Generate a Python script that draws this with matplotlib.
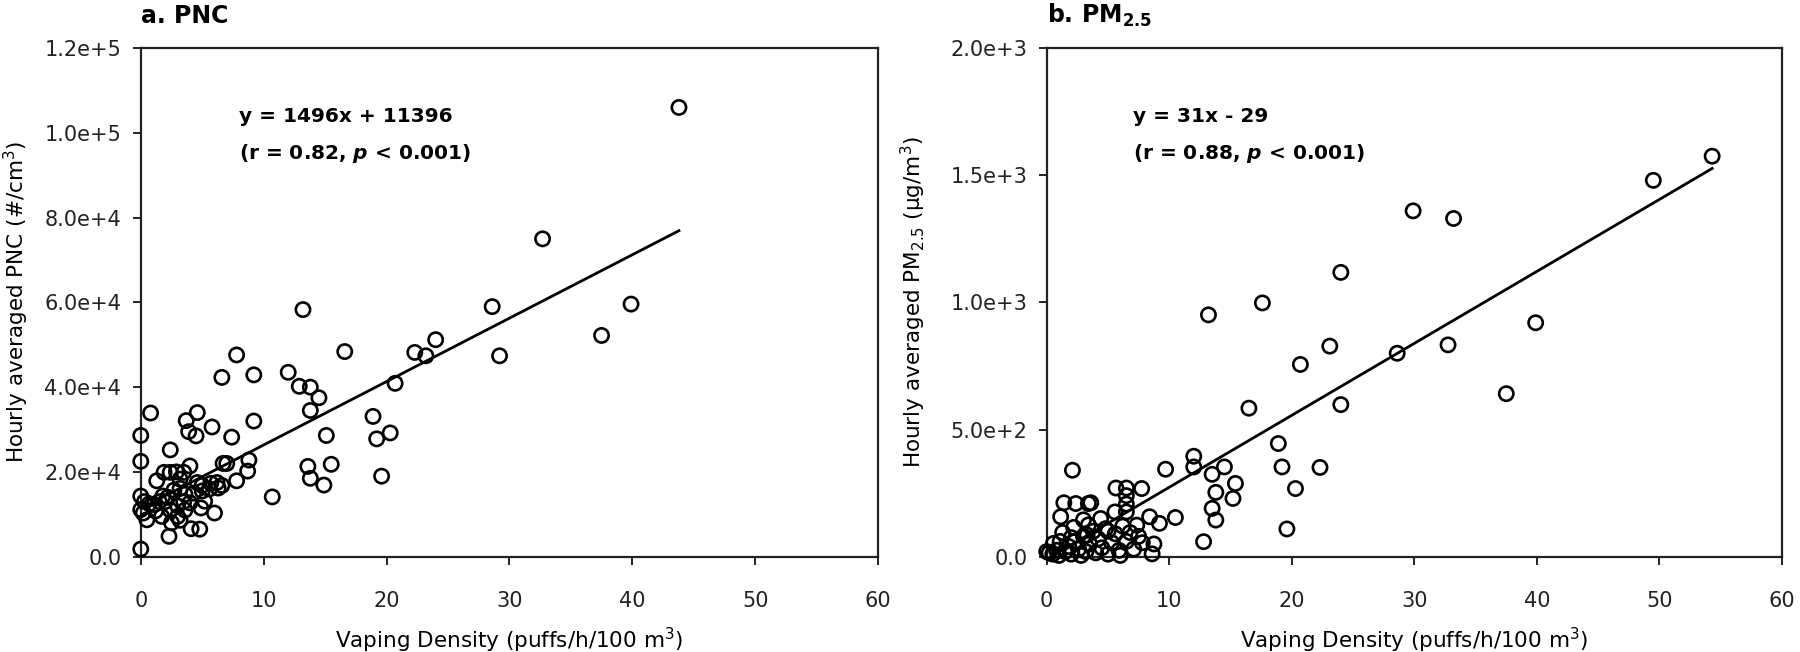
import numpy as np
import matplotlib
matplotlib.use("Agg")
import matplotlib.pyplot as plt

plt.rcParams['font.family'] = ['DejaVu Sans']
plt.rcParams['mathtext.default'] = 'regular'

# panel a: PNC vs vaping density
pnc_x = [43.8, 32.7, 28.6, 29.2, 37.5, 39.9, 13.2, 24.0, 22.3, 23.2, 16.6, 7.8,
         6.6, 9.2, 12.0, 12.9, 13.8, 14.5, 13.8, 20.7, 0.8, 0.0, 3.7, 4.6,
         5.8, 3.9, 4.5, 7.4, 9.2, 15.1, 18.9, 19.2, 20.3, 2.4, 0.0, 13.6,
         13.8, 15.5, 14.9, 19.6, 8.8, 8.7, 6.7, 7.0, 7.8, 10.7, 4.0, 0.0,
         0.0, 0.0, 2.3, 4.1, 4.8, 3.2, 6.0, 1.9, 2.4, 2.9, 3.5, 1.3,
         3.2, 4.6, 5.0, 5.7, 6.2, 6.6, 5.0, 5.6, 6.3, 5.2, 4.9, 0.3,
         0.7, 1.1, 1.5, 2.0, 0.2, 0.5, 1.7, 2.4, 3.0, 3.5, 3.6, 3.0,
         2.5, 2.7, 3.2, 1.8, 4.0, 3.6, 4.3, 2.2, 1.2]
pnc_y = [106000, 75000, 59000, 47400, 52200, 59600, 58300, 51200, 48200, 47400,
         48400, 47600, 42300, 42900, 43500, 40200, 40000, 37500, 34500, 40900,
         33900, 28600, 32100, 34000, 30600, 29500, 28500, 28200, 32000, 28600,
         33100, 27800, 29200, 25200, 22500, 21300, 18500, 21800, 16900, 19000,
         22800, 20200, 22000, 22000, 17900, 14100, 21400, 14300, 11100, 1800,
         4800, 6600, 6500, 8600, 10300, 19900, 19900, 20000, 19900, 17900,
         18300, 17500, 16800, 17300, 17500, 16800, 15500, 16000, 16200, 13100,
         11500, 13000, 12500, 12300, 13000, 13000, 10300, 8700, 9500, 11000,
         12000, 13000, 11000, 9500, 8000, 15700, 16100, 14300, 12700, 14700,
         15000, 14000, 10800]
pnc_fit = [1496, 11396]

# panel b: PM2.5 vs vaping density
pm_x = [54.3, 49.5, 29.9, 33.2, 39.9, 32.75, 37.5, 28.6, 24.0, 17.6, 13.2, 23.1,
        20.7, 24.0, 16.5, 18.9, 12.0, 12.0, 9.7, 14.5, 13.5, 19.2, 22.3, 15.4,
        13.8, 20.3, 15.2, 19.6, 12.8, 13.5, 13.8, 10.5, 9.2, 8.4, 8.75, 8.6,
        7.75, 5.65, 6.5, 6.5, 6.5, 5.57, 6.5, 2.1, 1.4, 2.37, 3.4, 3.6,
        1.14, 3.0, 3.4, 2.2, 7.35, 1.3, 0.55, 0.0, 0.2, 0.5, 0.8, 1.0,
        1.5, 1.8, 2.0, 2.3, 2.6, 2.8, 3.0, 3.2, 3.5, 3.8, 4.0, 4.2,
        4.5, 4.8, 5.0, 5.3, 5.6, 5.9, 6.2, 6.5, 6.8, 7.1, 7.5, 4.4,
        5.0, 3.3, 2.0, 1.1, 6.0, 7.8]
pm_y = [1575, 1480, 1360, 1330, 920, 833, 641, 800, 1118, 998, 951, 828,
        756, 598, 584, 445, 395, 353, 344, 353, 324, 353, 351, 288,
        253, 268, 229, 109, 59, 190, 144, 154, 131, 157, 50, 11,
        268, 270, 270, 240, 207, 176, 176, 340, 212, 209, 209, 212,
        157, 145, 125, 115, 124, 95, 52, 20, 15, 10, 25, 5,
        20, 40, 10, 60, 30, 5, 80, 20, 50, 100, 15, 70,
        35, 110, 10, 55, 90, 25, 120, 60, 95, 30, 80, 150,
        100, 85, 75, 60, 5, 55]
pm_fit = [28.3, -10]  # line as drawn in the figure

fig = plt.figure(figsize=(18, 6.52), dpi=100)
ax1 = fig.add_axes([0.0782, 0.1462, 0.4096, 0.780])
ax2 = fig.add_axes([0.5815, 0.1462, 0.4085, 0.780])


def style_axes(ax):
    for s in ax.spines.values():
        s.set_linewidth(1.6)
        s.set_color('#222222')
    ax.tick_params(direction='out', length=6, width=1.4, labelsize=15,
                   top=False, right=False, colors='#222222')
    ax.tick_params(axis='x', pad=19)
    ax.tick_params(axis='y', pad=8)
    ax.set_xlim(0, 60)
    ax.set_xticks(range(0, 61, 10))
    ax.set_xlabel('Vaping Density (puffs/h/100 m$^3$)', fontsize=15.5)
    ax.xaxis.set_label_coords(0.5, -0.135)


def draw_panel(ax, x, y, fit):
    ax.scatter(x, y, s=105, facecolors='none', edgecolors='black',
               linewidths=1.9, clip_on=False, zorder=3)
    xs = np.array([min(x), max(x)])
    ax.plot(xs, fit[0] * xs + fit[1], color='black', lw=2.0, zorder=2)


# a. PNC
draw_panel(ax1, pnc_x, pnc_y, pnc_fit)
style_axes(ax1)
ax1.set_ylim(0, 1.2e5)
ax1.set_yticks(np.arange(0, 1.21e5, 2e4))
ax1.set_yticklabels(['0.0', '2.0e+4', '4.0e+4', '6.0e+4', '8.0e+4', '1.0e+5', '1.2e+5'])
ax1.set_ylabel('Hourly averaged PNC (#/cm$^3$)', fontsize=15.5)
ax1.yaxis.set_label_coords(-0.149, 0.5)
ax1.text(0.0, 1.05, 'a. PNC', transform=ax1.transAxes, fontsize=17,
         fontweight='bold', va='baseline')
ax1.text(0.133, 0.866, 'y = 1496x + 11396', transform=ax1.transAxes,
         fontsize=14.5, fontweight='bold', va='center')
ax1.text(0.133, 0.792, r'(r = 0.82, $\mathbfit{p}$ < 0.001)', transform=ax1.transAxes,
         fontsize=14.5, fontweight='bold', va='center')

# b. PM2.5
draw_panel(ax2, pm_x, pm_y, pm_fit)
style_axes(ax2)
ax2.set_ylim(0, 2000)
ax2.set_yticks(np.arange(0, 2001, 500))
ax2.set_yticklabels(['0.0', '5.0e+2', '1.0e+3', '1.5e+3', '2.0e+3'])
ax2.set_ylabel('Hourly averaged PM$_{2.5}$ (μg/m$^3$)', fontsize=15.5)
ax2.yaxis.set_label_coords(-0.161, 0.5)
ax2.text(0.0, 1.05, r'b. PM$_{\mathbf{2.5}}$', transform=ax2.transAxes, fontsize=17,
         fontweight='bold', va='baseline')
ax2.text(0.118, 0.866, 'y = 31x - 29', transform=ax2.transAxes,
         fontsize=14.5, fontweight='bold', va='center')
ax2.text(0.118, 0.792, r'(r = 0.88, $\mathbfit{p}$ < 0.001)', transform=ax2.transAxes,
         fontsize=14.5, fontweight='bold', va='center')

fig.savefig('out.png', dpi=100, facecolor='white')
